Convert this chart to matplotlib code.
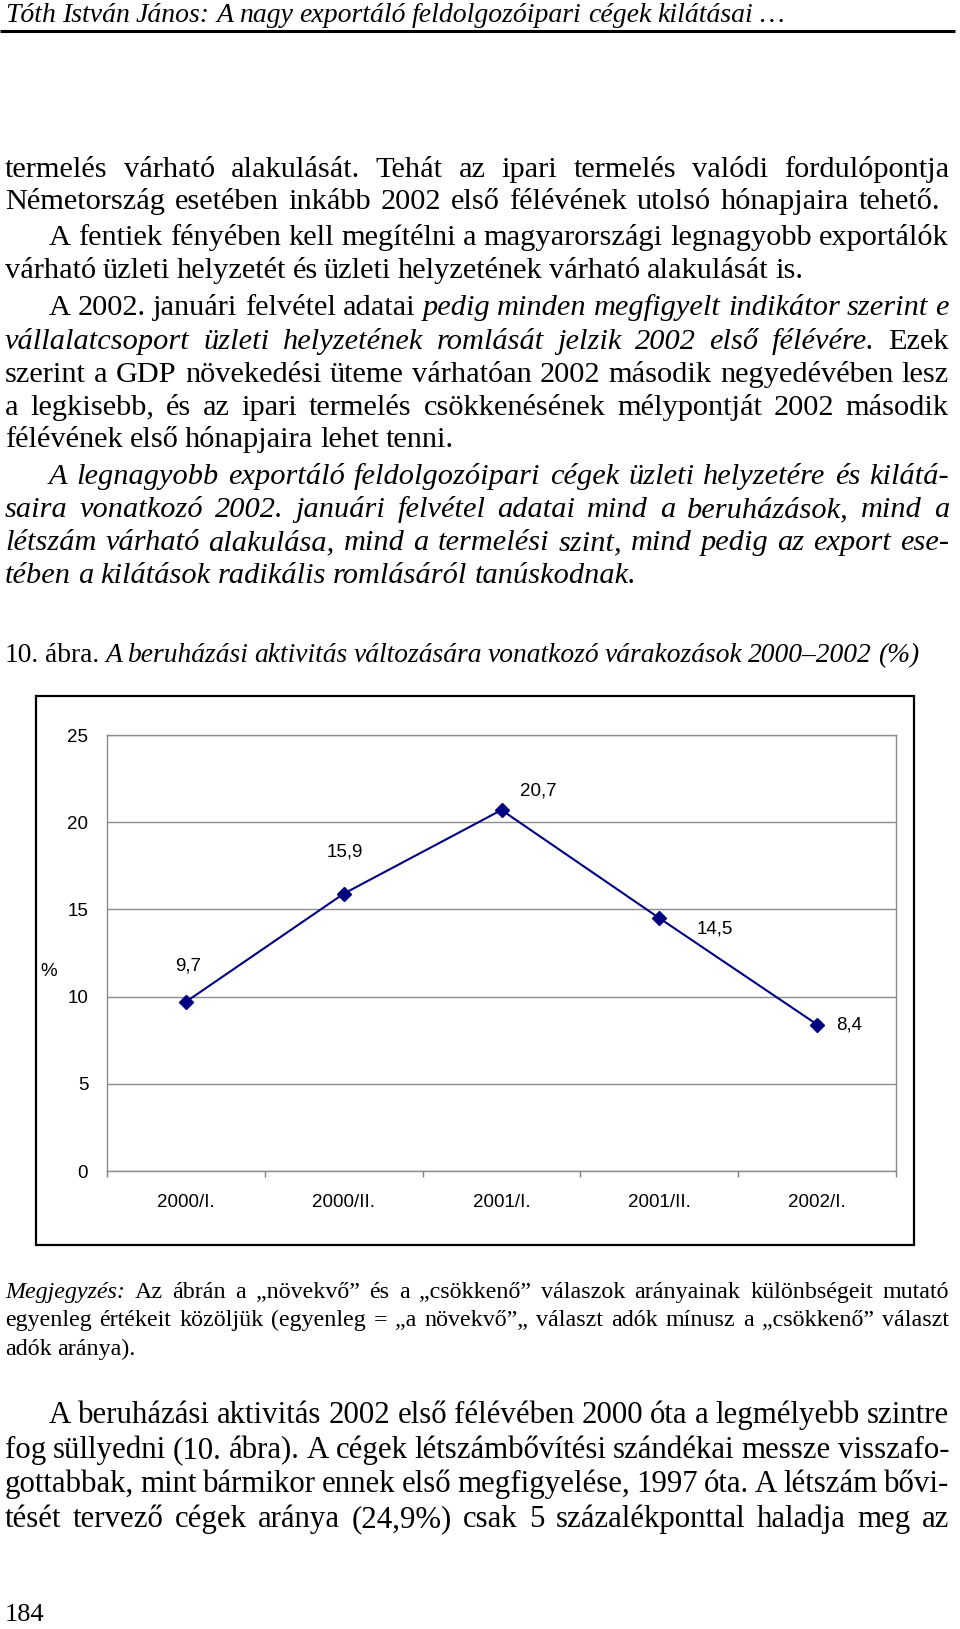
import matplotlib
matplotlib.use('Agg')
import matplotlib.pyplot as plt
from matplotlib.patches import Rectangle
from matplotlib.ticker import FixedLocator

# --------------------------------------------------------------------------------------
# Data

categories = ['2000/I.', '2000/II.', '2001/I.', '2001/II.', '2002/I.']
values     = [9.7, 15.9, 20.7, 14.5, 8.4]
val_labels = ['9,7', '15,9', '20,7', '14,5', '8,4']
yticks     = [0, 5, 10, 15, 20, 25]

header = 'Tóth István János: A nagy exportáló feldolgozóipari cégek kilátásai …'

# each line: list of (text, italic)
upper_lines = [
    [('termelés várható alakulását. Tehát az ipari termelés valódi fordulópontja', 0)],
    [('Németország esetében inkább 2002 első félévének utolsó hónapjaira tehető.', 0)],
    [('A fentiek fényében kell megítélni a magyarországi legnagyobb exportálók', 0)],
    [('várható üzleti helyzetét és üzleti helyzetének várható alakulását is.', 0)],
    [('A 2002. januári felvétel adatai', 0), ('pedig minden megfigyelt indikátor szerint e', 1)],
    [('vállalatcsoport üzleti helyzetének romlását jelzik 2002 első félévére.', 1), ('Ezek', 0)],
    [('szerint a GDP növekedési üteme várhatóan 2002 második negyedévében lesz', 0)],
    [('a legkisebb, és az ipari termelés csökkenésének mélypontját 2002 második', 0)],
    [('félévének első hónapjaira lehet tenni.', 0)],
    [('A legnagyobb exportáló feldolgozóipari cégek üzleti helyzetére és kilátá-', 1)],
    [('saira vonatkozó 2002. januári felvétel adatai mind a beruházások, mind a', 1)],
    [('létszám várható alakulása, mind a termelési szint, mind pedig az export ese-', 1)],
    [('tében a kilátások radikális romlásáról tanúskodnak.', 1)],
]

caption = [('10. ábra.', 0), ('A beruházási aktivitás változására vonatkozó várakozások 2000–2002 (%)', 1)]

note_lines = [
    [('Megjegyzés:', 1), ('Az ábrán a „növekvő” és a „csökkenő” válaszok arányainak különbségeit mutató', 0)],
    [('egyenleg értékeit közöljük (egyenleg = „a növekvő”„ választ adók mínusz a „csökkenő” választ', 0)],
    [('adók aránya).', 0)],
]

lower_lines = [
    [('A beruházási aktivitás 2002 első félévében 2000 óta a legmélyebb szintre', 0)],
    [('fog süllyedni (10. ábra). A cégek létszámbővítési szándékai messze visszafo-', 0)],
    [('gottabbak, mint bármikor ennek első megfigyelése, 1997 óta. A létszám bővi-', 0)],
    [('tését tervező cégek aránya (24,9%) csak 5 százalékponttal haladja meg az', 0)],
]

page_no = '184'

# --------------------------------------------------------------------------------------
# Layout (pixels on the page): x start, x end, visual line centre

upper_pos = [(5, 949, 168), (5, 940, 200), (49, 949, 236), (5, 803, 269),
             (49, 949, 306), (5, 949, 340), (5, 949, 373), (5, 949, 406),
             (5, 454, 438), (49, 949, 475), (5, 949, 508), (5, 949, 541),
             (5, 636, 574)]
caption_pos = (5, 919, 654)
note_pos = [(5, 949, 1291), (5, 949, 1319), (5, 135, 1348)]
lower_pos = [(49, 949, 1414), (5, 949, 1449), (5, 949, 1483), (5, 949, 1518)]

W, H = 960, 1629
fig = plt.figure(figsize=(W / 100, H / 100), dpi=100)
pg = fig.add_axes([0, 0, 1, 1])
pg.set_xlim(0, W)
pg.set_ylim(H, 0)
pg.axis('off')
r = fig.canvas.get_renderer()

SERIF = 'Liberation Serif'
PX = 100 / 72.0


def split_words(line):
    out = []
    for txt, it in line:
        for w in txt.split():
            out.append((w, it))
    return out


def measure(word, it, size):
    t = pg.text(0, 0, word, fontsize=size, family=SERIF,
                style='italic' if it else 'normal')
    w = t.get_window_extent(renderer=r).width
    t.remove()
    return w


def block_size(lines, pos, size_max, min_gap=0.2):
    s = size_max
    for line, (x0, x1, yc) in zip(lines, pos):
        words = split_words(line)
        sw = sum(measure(w, it, 10) for w, it in words) / 10
        fit = (x1 - x0) / (sw + (len(words) - 1) * min_gap * PX)
        s = min(s, fit)
    return s


def draw_line(line, x0, x1, yc, size):
    words = split_words(line)
    widths = [measure(w, it, size) for w, it in words]
    gap = (x1 - x0 - sum(widths)) / max(len(words) - 1, 1)
    if len(words) == 1:
        gap = 0
    x = x0
    yb = yc + 0.3 * size * PX
    for (w, it), wd in zip(words, widths):
        pg.text(x, yb, w, fontsize=size, family=SERIF, va='baseline', ha='left',
                style='italic' if it else 'normal', color='black')
        x += wd + gap


def draw_block(lines, pos, size_max, min_gap=0.2):
    s = block_size(lines, pos, size_max, min_gap)
    for line, (x0, x1, yc) in zip(lines, pos):
        draw_line(line, x0, x1, yc, s)
    return s


# header
hs = block_size([[(header, 1)]], [(5, 784, 14)], 22, 0.22)
draw_line([(header, 1)], 5, 784, 14, hs)
pg.plot([0, 955], [31, 31], color='black', lw=2.2, solid_capstyle='butt')

draw_block(upper_lines, upper_pos, 24)
draw_block([caption], [caption_pos], 22)
draw_block(note_lines, note_pos, 20)
draw_block(lower_lines, lower_pos, 24)
pg.text(5, 1613 + 0.3 * 19 * PX, page_no, fontsize=19, family=SERIF, va='baseline', color='black')

# --------------------------------------------------------------------------------------
# Chart

pg.add_patch(Rectangle((36, 696), 878, 549, fill=False, lw=1.6, ec='black'))

left, right, top, bottom = 107, 896, 735, 1171
ax = fig.add_axes([left / W, 1 - bottom / H, (right - left) / W, (bottom - top) / H])

x = list(range(len(categories)))
ax.plot(x, values, color='#000080', lw=1.5, marker='D', markersize=7,
        markerfacecolor='#000080', markeredgecolor='#000080', zorder=3)

label_offsets = [(2, 36), (1, 42), (37, 19), (56, -11), (32, 0)]
for xi, v, lab, off in zip(x, values, val_labels, label_offsets):
    ax.annotate(lab, (xi, v), xytext=off, textcoords='offset pixels',
                ha='center', va='center', fontsize=13.5, family='Liberation Sans')

ax.set_xlim(-0.5, len(categories) - 0.5)
ax.set_ylim(0, 25)
ax.set_xticks(x)
ax.set_xticklabels(categories, fontsize=13.5, family='Liberation Sans')
ax.xaxis.set_minor_locator(FixedLocator([i - 0.5 for i in range(len(categories) + 1)]))
ax.tick_params(axis='x', which='major', length=0, pad=16.5)
ax.tick_params(axis='x', which='minor', length=4.5, color='#808080', width=1)
ax.set_yticks(yticks)
ax.set_yticklabels([str(t) for t in yticks], fontsize=13.5, family='Liberation Sans')
ax.tick_params(axis='y', length=0, pad=13.5)

ax.grid(True, axis='y', color='#8c8c8c', lw=1)
ax.set_axisbelow(True)
for sp in ax.spines.values():
    sp.set_color('#8c8c8c')
    sp.set_linewidth(1)

pg.text(49, 971, '%', fontsize=13.5, family='Liberation Sans', ha='center', va='center')

fig.savefig('out.png', dpi=100)
